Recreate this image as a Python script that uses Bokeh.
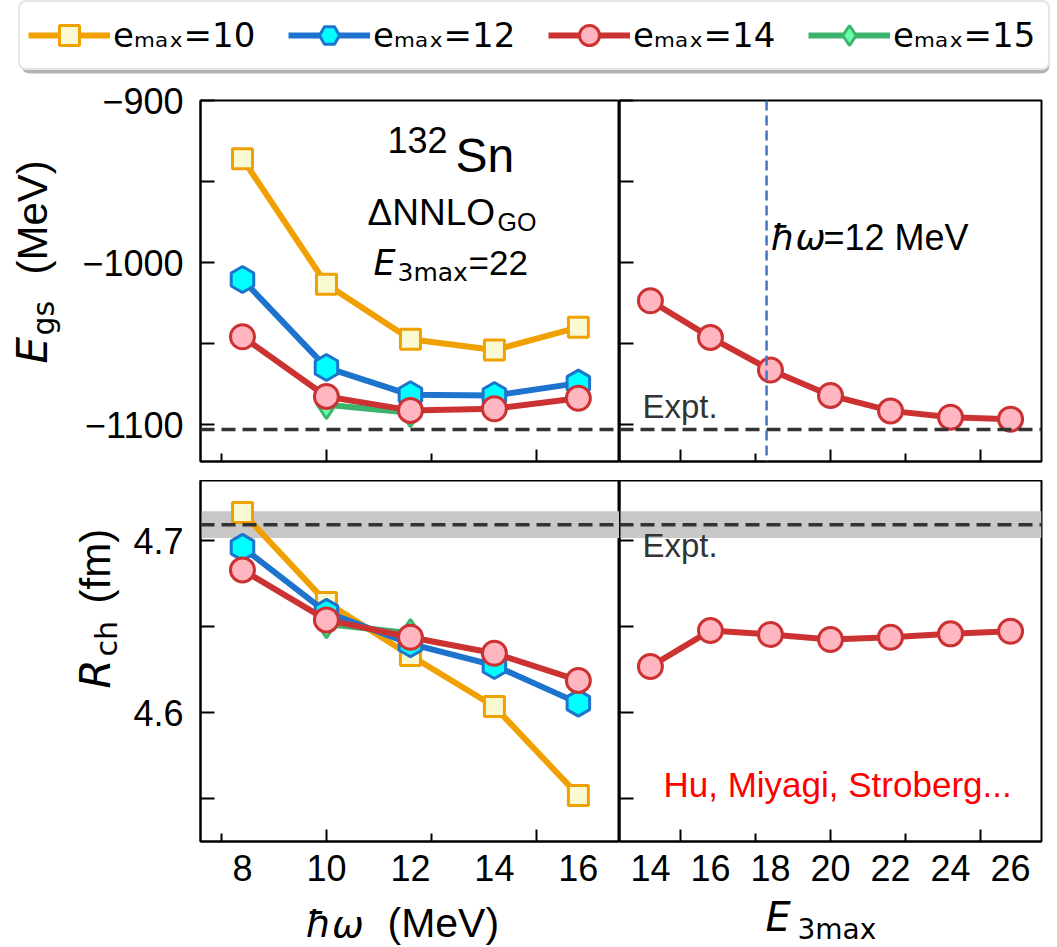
import numpy as np
from bokeh.plotting import figure
from bokeh.layouts import column, row
from bokeh.models import (Range1d, FixedTicker, LinearAxis, Span, BoxAnnotation,
                          Label, Legend, LegendItem, CustomLabelingPolicy)
from bokeh.embed import file_html
from bokeh.resources import INLINE

# ---------------- data ----------------
hw = [8, 10, 12, 14, 16]
hw_e15 = [10, 12]
egs_e10 = [-935.9, -1013.3, -1047.2, -1053.8, -1039.8]
egs_e12 = [-1010.3, -1064.6, -1081.4, -1081.8, -1074.2]
egs_e14 = [-1045.6, -1082.4, -1091.0, -1090.0, -1083.5]
egs_e15 = [-1087.5, -1092.5]

rch_e10 = [4.7164, 4.6641, 4.6332, 4.6035, 4.5518]
rch_e12 = [4.6961, 4.6583, 4.6400, 4.6274, 4.6055]
rch_e14 = [4.6830, 4.6539, 4.6438, 4.6345, 4.6187]
rch_e15 = [4.6515, 4.6461]

e3max = [14, 16, 18, 20, 22, 24, 26]
egs_e3 = [-1023.4, -1046.0, -1066.1, -1081.8, -1091.3, -1095.2, -1096.4]
rch_e3 = [4.6268, 4.6477, 4.6454, 4.6425, 4.6438, 4.6458, 4.6473]

egs_expt = -1102.8
rch_expt = 4.7093
rch_expt_err = 0.0078
e3max_marker_line = 17.87

legend_labels = ["eₘₐₓ=10", "eₘₐₓ=12", "eₘₐₓ=14", "eₘₐₓ=15"]
hw_ticks = [8, 10, 12, 14, 16]
e3_ticks = [14, 16, 18, 20, 22, 24, 26]

# ---------------- style ----------------
SANS = "Liberation Sans"
MATH = "DejaVu Sans"
C10, F10 = "#f0a000", "#fafad2"
C12, F12 = "#1e73cd", "#00ffff"
C14, F14 = "#cd3232", "#ffb6c1"
C15, F15 = "#3cb46e", "#66ffaa"
TICK_FS = "36px"
LW = 6
BASE_SHIFT = 0.36   # label anchor -> alphabetic baseline correction (in em)

NO_LABELS = "for (const i of indices) { indices.unset(i) } return indices"


def make_fig(xr, yr, fw, fh, bl, br, bt, bb):
    p = figure(x_range=Range1d(*xr), y_range=Range1d(*yr),
               frame_width=fw, frame_height=fh,
               min_border_left=bl, min_border_right=br,
               min_border_top=bt, min_border_bottom=bb,
               toolbar_location=None, output_backend="svg", tools="")
    p.grid.visible = False
    p.outline_line_color = "black"
    p.outline_line_width = 2
    p.background_fill_color = "white"
    p.border_fill_color = "white"
    return p


def blank_fig(w, h):
    p = figure(width=w, height=h, x_range=Range1d(0, 1), y_range=Range1d(0, 1),
               toolbar_location=None, output_backend="svg", tools="", min_border=0,
               x_axis_location=None, y_axis_location=None)
    p.outline_line_color = None
    p.grid.visible = False
    p.background_fill_color = "white"
    p.border_fill_color = "white"
    return p


def tick_axis(ax, majors, minors, major_len, minor_len):
    ax.ticker = FixedTicker(ticks=majors, minor_ticks=minors)
    ax.major_tick_in = major_len
    ax.major_tick_out = 0
    ax.minor_tick_in = minor_len
    ax.minor_tick_out = 0
    ax.major_label_policy = CustomLabelingPolicy(code=NO_LABELS)
    ax.major_label_overrides = {t: "" for t in majors}
    ax.major_label_text_font_size = "0px"
    ax.major_label_standoff = 0
    ax.axis_label_standoff = 0
    ax.axis_line_width = 2
    ax.axis_line_color = "black"
    ax.major_tick_line_width = 2
    ax.minor_tick_line_width = 2
    ax.major_tick_line_color = "black"
    ax.minor_tick_line_color = "black"
    ax.axis_label = None


def label_x_axis(p, ticks):
    ax = LinearAxis(ticker=FixedTicker(ticks=ticks, minor_ticks=[]),
                    major_tick_in=0, major_tick_out=0,
                    minor_tick_in=0, minor_tick_out=0,
                    axis_line_color=None,
                    major_label_text_font=SANS,
                    major_label_text_font_size=TICK_FS,
                    major_label_text_color="black",
                    major_label_standoff=13)
    p.add_layout(ax, "below")


def label_y_axis(ax, majors, minors, overrides):
    ax.ticker = FixedTicker(ticks=majors, minor_ticks=minors)
    ax.major_tick_in = 14
    ax.major_tick_out = 0
    ax.minor_tick_in = 14
    ax.minor_tick_out = 0
    ax.major_label_text_font = SANS
    ax.major_label_text_font_size = TICK_FS
    ax.major_label_text_color = "black"
    ax.major_label_standoff = 17
    ax.major_label_overrides = overrides
    ax.axis_line_width = 2
    ax.major_tick_line_width = 2
    ax.minor_tick_line_width = 2
    ax.axis_label = None


def txt(p, sx, sy, text, size, font=SANS, style="normal", color="black", rotated=False):
    """(sx, sy): left end of the alphabetic baseline, frame-relative screen px."""
    if rotated:
        ax_, ay_, ang = sx - BASE_SHIFT * size, sy, np.pi / 2
    else:
        ax_, ay_, ang = sx, sy + BASE_SHIFT * size, 0.0
    p.add_layout(Label(x=ax_, y=ay_, x_units="screen", y_units="screen", text=text,
                       text_font=font, text_font_size=f"{size}px",
                       text_font_style=style, text_color=color, angle=ang,
                       text_align="left", text_baseline="alphabetic"))


def series(p, x, y, color, marker, fill, size, angle=0.0):
    p.line(x, y, line_color=color, line_width=LW)
    p.scatter(x, y, marker=marker, size=size, fill_color=fill, line_color=color,
              line_width=3, angle=angle)


XR_HW = (7.0, 16.98)
XR_E3 = (12.97, 27.03)
YR_E = (-1122.5, -900.0)
YR_R = (4.525, 4.735)
HEX_ANGLE = np.pi / 6
SQ, HX, CI, DI = 20, 26, 24, 28

# ---------------- top-left: E_gs vs hw ----------------
p1 = make_fig(XR_HW, YR_E, 419, 361, 130, 0, 20, 19)
tick_axis(p1.xaxis[0], [10, 15], [7.5, 12.5], 12, 8)
label_y_axis(p1.yaxis[0], [-1100, -1000, -900], [-1050, -950],
             {-1100: "−1100", -1000: "−1000", -900: "−900"})
p1.add_layout(Span(location=egs_expt, dimension="width", line_color="#333333",
                   line_dash="14 7", line_width=3.5))
series(p1, hw, egs_e10, C10, "square", F10, SQ)
series(p1, hw, egs_e12, C12, "hex", F12, HX, HEX_ANGLE)
series(p1, hw_e15, egs_e15, C15, "diamond", F15, DI)
series(p1, hw, egs_e14, C14, "circle", F14, CI)
# frame: left page x 200, bottom page y 461
txt(p1, 187, 309, "132", 36)
txt(p1, 255, 289, "Sn", 48)
txt(p1, 167, 236, "ΔNNLO", 37)
txt(p1, 297, 231, "GO", 25)
txt(p1, 173, 186, "E", 35, font=MATH, style="italic")
txt(p1, 197, 180, "3max", 25, font=MATH)
txt(p1, 268, 186, "=22", 35)

# ---------------- top-right: E_gs vs E3max ----------------
p2 = make_fig(XR_E3, YR_E, 422, 361, 0, 16, 20, 19)
tick_axis(p2.xaxis[0], [15, 20, 25], [17.5, 22.5], 12, 8)
tick_axis(p2.yaxis[0], [-1100, -1000, -900], [-1050, -950], 14, 14)
p2.add_layout(Span(location=egs_expt, dimension="width", line_color="#333333",
                   line_dash="14 7", line_width=3.5))
p2.add_layout(Span(location=e3max_marker_line, dimension="height", line_color="#4472c4",
                   line_dash="10 5", line_width=2.5))
series(p2, e3max, egs_e3, C14, "circle", F14, CI)
txt(p2, 23, 43, "Expt.", 33, color="#333333")
txt(p2, 151, 211, "ħω", 36, font=MATH, style="italic")
txt(p2, 204, 211, "=12 MeV", 36)

# ---------------- bottom-left: R_ch vs hw ----------------
p3 = make_fig(XR_HW, YR_R, 419, 361, 75, 0, 0, 54)
tick_axis(p3.xaxis[0], [10, 15], [7.5, 12.5], 12, 8)
label_x_axis(p3, hw_ticks)
label_y_axis(p3.yaxis[0], [4.6, 4.7], [4.55, 4.65], {4.6: "4.6", 4.7: "4.7"})
p3.add_layout(BoxAnnotation(bottom=rch_expt - rch_expt_err, top=rch_expt + rch_expt_err,
                            fill_color="#c8c8c8", fill_alpha=1.0, line_color=None,
                            level="underlay"))
p3.add_layout(Span(location=rch_expt, dimension="width", line_color="#333333",
                   line_dash="14 7", line_width=3.5))
series(p3, hw, rch_e10, C10, "square", F10, SQ)
series(p3, hw, rch_e12, C12, "hex", F12, HX, HEX_ANGLE)
series(p3, hw_e15, rch_e15, C15, "diamond", F15, DI)
series(p3, hw, rch_e14, C14, "circle", F14, CI)

# ---------------- bottom-right: R_ch vs E3max ----------------
p4 = make_fig(XR_E3, YR_R, 422, 361, 0, 16, 0, 54)
tick_axis(p4.xaxis[0], [15, 20, 25], [17.5, 22.5], 12, 8)
label_x_axis(p4, e3_ticks)
tick_axis(p4.yaxis[0], [4.6, 4.7], [4.55, 4.65], 14, 14)
p4.add_layout(BoxAnnotation(bottom=rch_expt - rch_expt_err, top=rch_expt + rch_expt_err,
                            fill_color="#c8c8c8", fill_alpha=1.0, line_color=None,
                            level="underlay"))
p4.add_layout(Span(location=rch_expt, dimension="width", line_color="#333333",
                   line_dash="14 7", line_width=3.5))
series(p4, e3max, rch_e3, C14, "circle", F14, CI)
txt(p4, 23, 284, "Expt.", 33, color="#333333")
txt(p4, 44, 44, "Hu, Miyagi, Stroberg...", 35, color="#ff0000")

# ---------------- axis-title strips ----------------
labL1 = blank_fig(70, 400)      # page x 0..70, y 80..480
txt(labL1, 47, 480 - 382, "E", 42, font=MATH, style="italic", rotated=True)
txt(labL1, 54, 480 - 354, "gs", 30, font=MATH, rotated=True)
txt(labL1, 47, 480 - 293, "(MeV)", 42, rotated=True)

labL2 = blank_fig(125, 415)     # page x 0..125, y 480..895
txt(labL2, 110, 895 - 742, "R", 42, font=MATH, style="italic", rotated=True)
txt(labL2, 117, 895 - 710, "ch", 30, font=MATH, rotated=True)
txt(labL2, 110, 895 - 657, "(fm)", 42, rotated=True)

labB = blank_fig(1057, 52)      # page y 895..947
txt(labB, 305, 947 - 937, "ħω", 38, font=MATH, style="italic")
txt(labB, 387, 947 - 937, "(MeV)", 41)
txt(labB, 765, 947 - 931, "E", 40, font=MATH, style="italic")
txt(labB, 797, 947 - 939, "3max", 28, font=MATH)

# ---------------- legend strip ----------------
p_leg = blank_fig(1057, 80)
shadow = BoxAnnotation(left=21, right=1049, bottom=7, top=72,
                       left_units="screen", right_units="screen",
                       bottom_units="screen", top_units="screen",
                       fill_color="#b4b4b4", fill_alpha=1.0, line_color=None,
                       level="underlay")
if "border_radius" in BoxAnnotation.properties():
    shadow.border_radius = 8
p_leg.add_layout(shadow)
specs = [(hw, egs_e10, C10, "square", F10, SQ, 0.0),
         (hw, egs_e12, C12, "hex", F12, HX, HEX_ANGLE),
         (hw, egs_e14, C14, "circle", F14, CI, 0.0),
         (hw_e15, egs_e15, C15, "diamond", F15, DI, 0.0)]
items = []
for lab, (xs, ys, c, m, f, s, a) in zip(legend_labels, specs):
    # series drawn far outside this strip's ranges: only the legend glyphs show
    lr = p_leg.line(xs, ys, line_color=c, line_width=LW)
    sr = p_leg.scatter(xs, ys, marker=m, size=s, fill_color=f, line_color=c,
                       line_width=3, angle=a)
    items.append(LegendItem(label=lab, renderers=[lr, sr]))
legend = Legend(items=items, orientation="horizontal", location=(18, 10), margin=0,
                padding=8, spacing=28, glyph_width=82, glyph_height=50,
                label_standoff=3, label_text_font=MATH, label_text_font_size="34px",
                label_text_color="black",
                label_width=147, border_line_color="#cccccc", border_line_width=2,
                background_fill_color="white", background_fill_alpha=1.0)
if "border_radius" in Legend.properties():
    legend.border_radius = 8
p_leg.add_layout(legend)

layout = column(p_leg,
                row(labL1, p1, p2),
                row(labL2, p3, p4),
                labB)
open("out.html", "w").write(file_html(layout, INLINE))
